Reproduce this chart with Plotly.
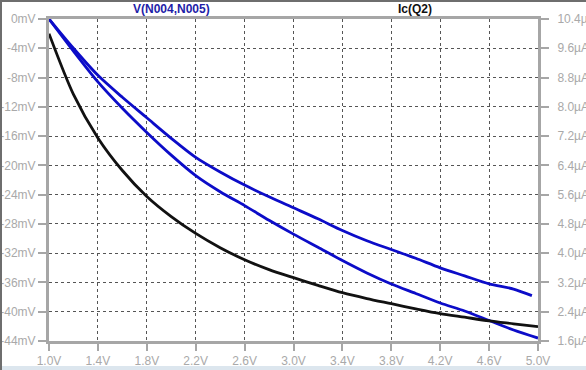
import plotly.graph_objects as go

# Sweep voltage (V)
v_upper = [1.0, 1.2, 1.4, 1.6, 1.8, 2.0, 2.2, 2.4, 2.6, 2.8, 3.0, 3.2, 3.4, 3.6, 3.8, 4.0, 4.2, 4.4, 4.6, 4.8, 4.95]
vn_upper = [0, -4.0, -7.7, -10.7, -13.5, -16.3, -18.9, -20.9, -22.7, -24.3, -25.8, -27.3, -28.9, -30.3, -31.5, -32.7, -34.0, -35.1, -36.2, -36.9, -37.8]

v_lower = [1.0, 1.2, 1.4, 1.6, 1.8, 2.0, 2.2, 2.4, 2.6, 2.8, 3.0, 3.2, 3.4, 3.6, 3.8, 4.0, 4.2, 4.4, 4.6, 4.8, 5.0]
vn_lower = [0, -4.4, -8.6, -12.2, -15.5, -18.6, -21.4, -23.6, -25.5, -27.5, -29.4, -31.2, -33.0, -34.7, -36.2, -37.5, -38.8, -39.9, -41.2, -42.5, -43.6]

v_ic = [1.0, 1.2, 1.4, 1.6, 1.8, 2.0, 2.2, 2.4, 2.6, 2.8, 3.0, 3.2, 3.4, 3.6, 3.8, 4.0, 4.2, 4.4, 4.6, 4.8, 5.0]
ic_q2 = [10.0, 8.34, 7.15, 6.26, 5.55, 5.0, 4.54, 4.15, 3.82, 3.55, 3.33, 3.12, 2.92, 2.76, 2.62, 2.48, 2.35, 2.25, 2.15, 2.07, 1.99]

x_ticks = [1.0, 1.4, 1.8, 2.2, 2.6, 3.0, 3.4, 3.8, 4.2, 4.6, 5.0]
x_labels = ["1.0V", "1.4V", "1.8V", "2.2V", "2.6V", "3.0V", "3.4V", "3.8V", "4.2V", "4.6V", "5.0V"]
y_ticks = [0, -4, -8, -12, -16, -20, -24, -28, -32, -36, -40, -44]
y_labels = ["0mV", "-4mV", "-8mV", "-12mV", "-16mV", "-20mV", "-24mV", "-28mV", "-32mV", "-36mV", "-40mV", "-44mV"]
y2_ticks = [10.4, 9.6, 8.8, 8.0, 7.2, 6.4, 5.6, 4.8, 4.0, 3.2, 2.4, 1.6]
y2_labels = ["10.4µA", "9.6µA", "8.8µA", "8.0µA", "7.2µA", "6.4µA", "5.6µA", "4.8µA", "4.0µA", "3.2µA", "2.4µA", "1.6µA"]

BLUE = "#0C0CC8"
AXIS = "#A6A6A6"
LABEL = "#A9A9A9"
GRID = "#555555"
FONT = "Liberation Sans, Arial, sans-serif"

fig = go.Figure()
fig.add_trace(go.Scatter(x=v_upper, y=vn_upper, mode="lines",
                         line=dict(color=BLUE, width=2.8, shape="spline", smoothing=0.8),
                         yaxis="y", name="V(N004,N005)", hoverinfo="skip"))
fig.add_trace(go.Scatter(x=v_lower, y=vn_lower, mode="lines",
                         line=dict(color=BLUE, width=2.8, shape="spline", smoothing=0.8),
                         yaxis="y", name="V(N004,N005) b", hoverinfo="skip"))
fig.add_trace(go.Scatter(x=v_ic, y=ic_q2, mode="lines",
                         line=dict(color="#111111", width=2.8, shape="spline", smoothing=0.8),
                         yaxis="y2", name="Ic(Q2)", hoverinfo="skip"))

fig.update_layout(
    width=586, height=370,
    margin=dict(l=49, r=48, t=19, b=29, pad=0),
    paper_bgcolor="white", plot_bgcolor="white",
    showlegend=False,
    font=dict(family=FONT, size=12, color=LABEL),
    xaxis=dict(range=[1.0, 5.0], tickvals=x_ticks, ticktext=x_labels,
               showline=True, linecolor=AXIS, linewidth=3, mirror=True,
               ticks="outside", ticklen=7, tickwidth=2, tickcolor=AXIS,
               showgrid=True, gridcolor=GRID, gridwidth=1, griddash="3px,3px",
               zeroline=False, automargin=False,
               tickfont=dict(family=FONT, size=12, color=LABEL)),
    yaxis=dict(range=[-44, 0], tickvals=y_ticks, ticktext=y_labels,
               showline=True, linecolor=AXIS, linewidth=3,
               ticks="outside", ticklen=8, tickwidth=2, tickcolor=AXIS,
               showgrid=True, gridcolor=GRID, gridwidth=1, griddash="3px,3px",
               zeroline=False, automargin=False,
               tickfont=dict(family=FONT, size=12, color=LABEL)),
    yaxis2=dict(range=[1.6, 10.4], tickvals=y2_ticks, ticktext=y2_labels,
                overlaying="y", side="right",
                showline=True, linecolor=AXIS, linewidth=3,
                ticks="outside", ticklen=8, tickwidth=2, tickcolor=AXIS,
                showgrid=False, zeroline=False, automargin=False,
                ticklabelstandoff=6,
                tickfont=dict(family=FONT, size=12, color=LABEL)),
    annotations=[
        dict(text="<b>V(N004,N005)</b>", xref="paper", yref="paper",
             x=(171 - 49) / 489, y=1 + (19 - 9) / 322, xanchor="center", yanchor="middle",
             showarrow=False, font=dict(family=FONT, size=12, color="#1E1EA8")),
        dict(text="<b>Ic(Q2)</b>", xref="paper", yref="paper",
             x=(415 - 49) / 489, y=1 + (19 - 9) / 322, xanchor="center", yanchor="middle",
             showarrow=False, font=dict(family=FONT, size=12, color="#111111")),
    ],
    shapes=[
        dict(type="line", xref="paper", yref="paper",
             x0=-48 / 489, x1=-48 / 489, y0=-29 / 322, y1=1 + 19 / 322,
             line=dict(color="#6E6E6E", width=2)),
        dict(type="line", xref="paper", yref="paper",
             x0=-49 / 489, x1=1 + 48 / 489, y0=1 + 18 / 322, y1=1 + 18 / 322,
             line=dict(color="#6E6E6E", width=2)),
        dict(type="rect", xref="paper", yref="paper",
             x0=-49 / 489, x1=1 + 48 / 489, y0=-29 / 322, y1=-25 / 322,
             fillcolor="#DCE6EE", line=dict(width=0), layer="below"),
    ],
)

fig.write_html("out.html",
               config={"displayModeBar": False, "staticPlot": True},
               post_script="document.body.style.margin='0';document.body.style.overflow='hidden';")
